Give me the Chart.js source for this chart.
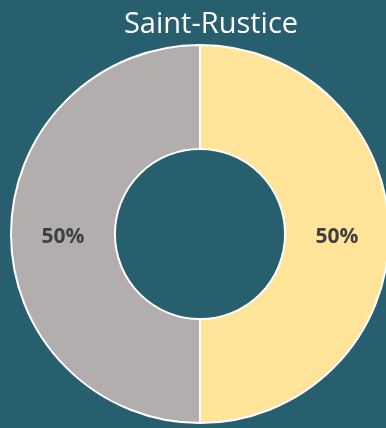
<!DOCTYPE html>
<html>
<head>
<meta charset="utf-8">
<script src="https://cdn.jsdelivr.net/npm/chart.js@4"></script>
<style>
    html, body { margin: 0; padding: 0; background: #285f6f; overflow: hidden; }
    #wrap { width: 420px; height: 428px; }
</style>
</head>
<body>
<div id="wrap"><canvas id="ringChart"></canvas></div>
<script>
const chartTitle = "Saint-Rustice";
const labels = ["Oui", "Non"];
const values = [50, 50];
const colours = ["#ffe499", "#b2aeae"];

// title sits a little right of the ring's centre, so it is drawn by hand
const ringTitle = {
    id: "ringTitle",
    afterDraw(chart)
    {
        const ctx = chart.ctx;
        ctx.save();
        ctx.font = "29px 'Open Sans'";
        ctx.fillStyle = "#ffffff";
        ctx.textAlign = "center";
        ctx.textBaseline = "alphabetic";
        ctx.fillText(chartTitle, 211, 33);
        ctx.restore();
    }
};

// write the share of each slice in the middle of its ring
const sliceLabels = {
    id: "sliceLabels",
    afterDatasetsDraw(chart)
    {
        const ctx = chart.ctx;
        const meta = chart.getDatasetMeta(0);
        const total = values.reduce((a, b) => a + b, 0);
        ctx.save();
        ctx.font = "bold 21px 'Open Sans'";
        ctx.fillStyle = "#404040";
        ctx.textAlign = "center";
        ctx.textBaseline = "middle";
        meta.data.forEach((arc, i) =>
        {
            const pos = arc.tooltipPosition();
            ctx.fillText(Math.round(values[i] / total * 100) + "%", pos.x, pos.y + 3);
        });
        ctx.restore();
    }
};

new Chart(document.getElementById("ringChart"), {
    type: "doughnut",
    data: {
        labels: labels,
        datasets: [{
            data: values,
            backgroundColor: colours,
            borderColor: "#ffffff",
            borderWidth: 2
        }]
    },
    options: {
        responsive: true,
        maintainAspectRatio: false,
        animation: false,
        cutout: "45%",
        layout: { padding: { left: 10, right: 30, top: 44, bottom: 4 } },
        plugins: {
            legend: { display: false },
            tooltip: { enabled: false },
            title: { display: false }
        }
    },
    plugins: [sliceLabels, ringTitle]
});
</script>
</body>
</html>
